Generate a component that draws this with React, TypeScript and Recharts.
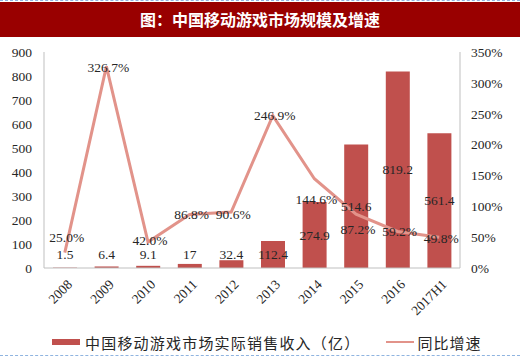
import {
  ComposedChart, Bar, Line, XAxis, YAxis, LabelList,
} from 'recharts'

const YEARS = ['2008', '2009', '2010', '2011', '2012', '2013', '2014', '2015', '2016', '2017H1']
const REVENUE = [1.5, 6.4, 9.1, 17, 32.4, 112.4, 274.9, 514.6, 819.2, 561.4]
const GROWTH = [25.0, 326.7, 42.0, 86.8, 90.6, 246.9, 144.6, 87.2, 59.2, 49.8]
const LEFT_TICKS = [0, 100, 200, 300, 400, 500, 600, 700, 800, 900]
const RIGHT_TICKS = [0, 50, 100, 150, 200, 250, 300, 350]

// vertical nudges for growth labels so they sit where the original put them
const GROWTH_LABEL_DY = [-15, 1, -2, 0, 2, 0, 21, 15, 0, 1]

const BAR_COLOR = '#C0504D'
const LINE_COLOR = '#E2938A'
const TEXT = '#262626'
const FONT = '"Liberation Serif", "Times New Roman", serif'
const FS = 13.5

const chartData = YEARS.map((year, i) => ({
  year,
  revenue: REVENUE[i],
  growth: GROWTH[i],
}))

const BarValueLabel = ({ x, y, width, height, value }: any) => {
  const cy = Math.min(y + height / 2, y + height - 14)
  return (
    <text x={x + width / 2} y={cy} dy="0.35em" textAnchor="middle"
      fontSize={FS} fill={TEXT} fontFamily={FONT}>
      {value}
    </text>
  )
}

const GrowthLabel = ({ x, y, value, index }: any) => (
  <text x={x + 2} y={y + GROWTH_LABEL_DY[index]} dy="0.35em" textAnchor="middle"
    fontSize={FS} fill={TEXT} fontFamily={FONT}>
    {value.toFixed(1)}%
  </text>
)

const YearTick = ({ x, y, payload }: any) => (
  <g transform={`translate(${x + 5},${y + 6})`}>
    <text textAnchor="end" dy="0.35em" transform="rotate(-45)"
      fontSize={FS} fill={TEXT} fontFamily={FONT}>
      {payload.value}
    </text>
  </g>
)

export default function App() {
  return (
    <div style={{
      position: 'absolute', left: 0, top: 0, width: 520, height: 358,
      background: '#fff', overflow: 'hidden',
    }}>
      <div style={{ position: 'absolute', left: 0, top: 0, width: 520, borderTop: '1px dashed #8fb4e0' }} />
      <div style={{
        position: 'absolute', left: 0, top: 2, width: 520, height: 35,
        background: '#990000', color: '#fff', textAlign: 'center',
        lineHeight: '35px', fontSize: 16, fontWeight: 'bold',
        fontFamily: '"Noto Sans CJK SC", sans-serif',
      }}>
        图：中国移动游戏市场规模及增速
      </div>

      <ComposedChart width={520} height={358} data={chartData}
        margin={{ top: 52, right: 10, bottom: 30, left: 4 }}>
        <XAxis dataKey="year" tickLine={false} height={60} interval={0}
          axisLine={{ stroke: '#BFBFBF' }} tick={<YearTick />} />
        <YAxis yAxisId="left" domain={[0, 900]} ticks={LEFT_TICKS} width={40}
          tickLine={false} axisLine={{ stroke: '#BFBFBF' }} tickMargin={6}
          tick={{ fontSize: FS, fill: TEXT, fontFamily: FONT }} />
        <YAxis yAxisId="right" orientation="right" domain={[0, 350]} ticks={RIGHT_TICKS}
          width={50} tickLine={false} axisLine={{ stroke: '#BFBFBF' }} tickMargin={5}
          tickFormatter={(v) => `${v}%`}
          tick={{ fontSize: FS, fill: TEXT, fontFamily: FONT, textAnchor: 'start' }} />
        <Bar yAxisId="left" dataKey="revenue" fill={BAR_COLOR} barSize={24}
          isAnimationActive={false}>
          <LabelList dataKey="revenue" content={<BarValueLabel />} />
        </Bar>
        <Line yAxisId="right" dataKey="growth" type="linear" stroke={LINE_COLOR}
          strokeWidth={3} dot={false} isAnimationActive={false}>
          <LabelList dataKey="growth" content={<GrowthLabel />} />
        </Line>
      </ComposedChart>

      <div style={{
        position: 'absolute', left: 52, top: 331, height: 22,
        display: 'flex', alignItems: 'center', fontSize: 15, color: '#262626',
        fontFamily: '"Noto Sans CJK SC", sans-serif',
      }}>
        <span style={{ width: 28, height: 6, background: BAR_COLOR, marginRight: 5 }} />
        <span style={{ letterSpacing: 1.2 }}>中国移动游戏市场实际销售收入（亿）</span>
        <span style={{ width: 28, height: 2, background: LINE_COLOR, marginLeft: 26, marginRight: 3 }} />
        <span style={{ letterSpacing: 1 }}>同比增速</span>
      </div>
      <div style={{ position: 'absolute', left: 0, top: 355, width: 520, borderTop: '1px dashed #8fb4e0' }} />
    </div>
  )
}
